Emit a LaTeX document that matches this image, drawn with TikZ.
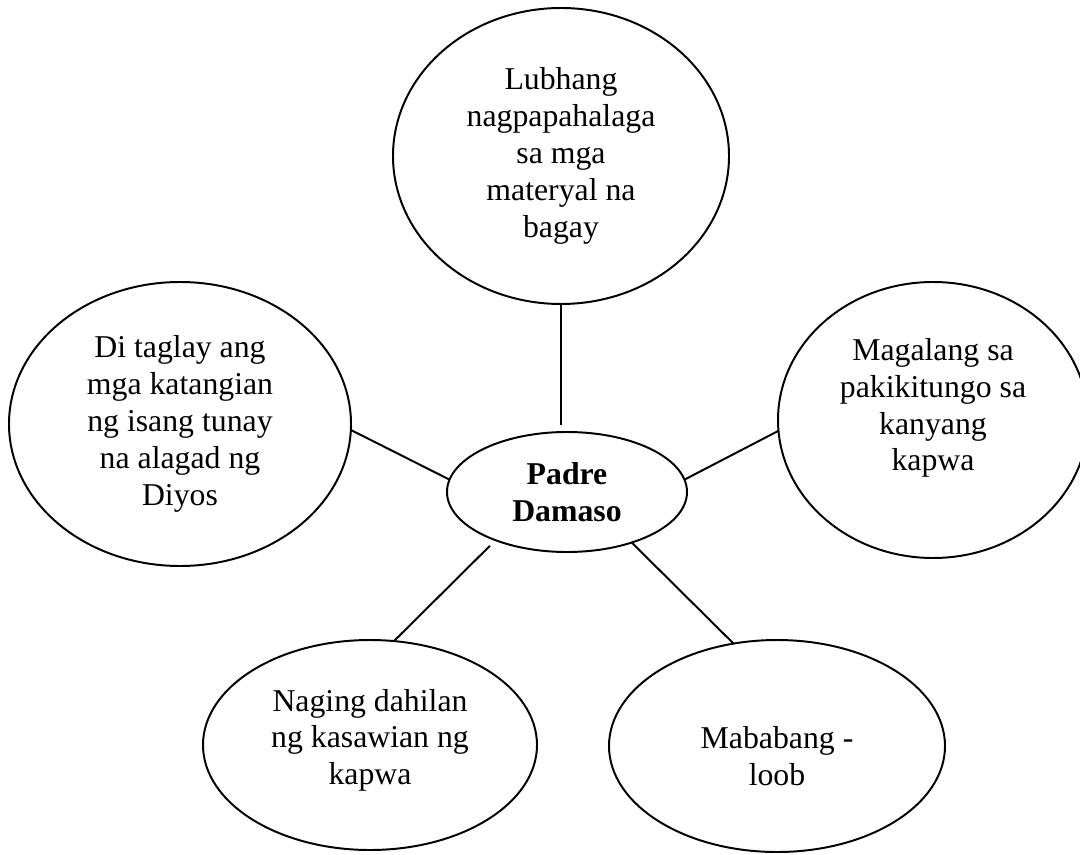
\documentclass[tikz,border=0pt]{standalone}
\usepackage{fontspec}
\setmainfont{Liberation Serif}
\usepackage{tikz}
\usetikzlibrary{positioning}
\usetikzlibrary{shapes.geometric}

\begin{document}
\begin{tikzpicture}[
            line width = 1.4pt, % line style
            font = \fontsize{22.6}{26.2}\selectfont % word-like text
        ]

        \tikzstyle{bubble}=[
            draw,
            ellipse,
            align = center,
            inner sep = 0pt,
            outer sep = 0pt
        ]

        \useasboundingbox (0,0) rectangle (27,21.35);

	% CENTRE OF THE MAP
        \node[bubble, minimum width = 6cm, minimum height = 3cm, font = \fontsize{22.6}{26.2}\selectfont\bfseries] (PD) at (14.175,9.05) {Padre\\Damaso};

	% TRAITS AROUND IT
        \node[bubble, minimum width = 8.4cm, minimum height = 7.4cm] (T) [above = 3.2cm of PD, xshift = -0.15cm] {Lubhang\\nagpapahalaga\\sa mga\\materyal na\\bagay};
        \node[bubble, minimum width = 8.55cm, minimum height = 7.1cm] (L) [left = 2.4cm of PD, yshift = 1.7cm] {Di taglay ang\\mga katangian\\ng isang tunay\\na alagad ng\\Diyos};
        \node[bubble, minimum width = 7.75cm, minimum height = 6.9cm, label = {[align = center, yshift = 0.3cm]center:{Magalang sa\\pakikitungo sa\\kanyang\\kapwa}}] (R) [right = 2.275cm of PD, yshift = 1.8cm] {};
        \node[bubble, minimum width = 8.35cm, minimum height = 5.25cm, label = {[align = center, yshift = 0.12cm]center:{Naging dahilan\\ng kasawian ng\\kapwa}}] (BL) [below = 2.2cm of PD, xshift = -4.925cm] {};
        \node[bubble, minimum width = 8.4cm, minimum height = 5.3cm, label = {[align = center, yshift = -0.25cm]center:{Mababang -\\loob}}] (BR) [below = 2.2cm of PD, xshift = 5.25cm] {};

	% SPOKES
        \draw[shorten > = 0.175cm] (T.south) -- (T.south |- PD.north);
        \draw (L.-2.7) -- (PD.174.3);
        \draw (R.184.6) -- (PD.6.2);
        \draw[shorten < = 0.2cm] (PD.214.5) -- (BL.77.4);
        \draw (PD.-38.8) -- (BR.113.9);

\end{tikzpicture}
\end{document}
